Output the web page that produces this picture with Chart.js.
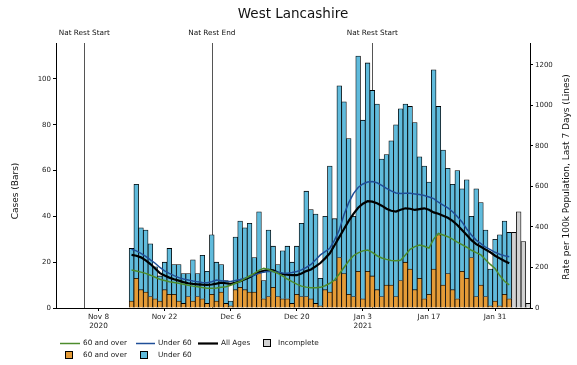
<!DOCTYPE html>
<html>
<head>
<meta charset="utf-8">
<script src="https://cdn.jsdelivr.net/npm/chart.js@4"></script>
<style>
html,body{margin:0;padding:0;background:#fff;}
</style>
</head>
<body>
<canvas id="chart" width="577" height="365"></canvas>
<script>
// dates of the complete days (month/day), Nov 2020 to Feb 2021
const dates = [
  "11/15","11/16","11/17","11/18","11/19","11/20","11/21","11/22","11/23","11/24","11/25","11/26","11/27","11/28","11/29","11/30",
  "12/1","12/2","12/3","12/4","12/5","12/6","12/7","12/8","12/9","12/10","12/11","12/12","12/13","12/14","12/15","12/16",
  "12/17","12/18","12/19","12/20","12/21","12/22","12/23","12/24","12/25","12/26","12/27","12/28","12/29","12/30","12/31",
  "1/1","1/2","1/3","1/4","1/5","1/6","1/7","1/8","1/9","1/10","1/11","1/12","1/13","1/14","1/15","1/16",
  "1/17","1/18","1/19","1/20","1/21","1/22","1/23","1/24","1/25","1/26","1/27","1/28","1/29","1/30","1/31",
  "2/1","2/2","2/3"
];
const over60 = [3,13,8,7,5,4,3,8,6,6,3,2,5,3,5,4, 2,6,3,7,2,1,8,9,8,7,7,16,4,5,9,5, 4,4,2,6,5,5,4,2,1,8,7,12,22,15,6,
  5,16,4,16,14,8,5,10,10,5,12,20,17,8,13,4, 6,17,32,10,15,8,4,16,13,22,5,10,5,1,3, 1,6,4];
const under60 = [23,41,27,27,23,14,11,12,20,13,16,13,10,18,10,19, 14,26,17,12,10,2,23,29,27,30,15,26,8,29,18,14, 21,23,18,21,32,46,39,39,12,32,55,27,75,75,68,
  35,94,78,91,81,81,60,57,63,75,75,69,71,73,53,58, 49,87,56,59,46,46,56,36,43,18,47,36,29,16,27, 31,32,29];
const incompleteDates = ["2/4","2/5","2/6","2/7"];
const incomplete = [33,42,29,2];

// rate per 100k, last 7 days
const rateOver60 = [188,183,177,171,162,152,142,136,130,126,122,117,112,108,105,101, 98,97,99,102,105,112,122,131,145,158,171,186,196,190,180,171,
  158,143,130,118,108,103,100,100,102,110,122,138,168,200,232, 258,272,282,286,275,258,247,240,235,233,236,262,290,303,311,305,
  296,340,368,360,352,340,325,313,300,285,273,262,238,215,195, 160,132,114];
const rateUnder60 = [290,282,270,255,238,221,200,183,171,160,150,143,138,133,129,126, 125,130,138,135,132,131,136,141,147,155,163,171,177,181,180,176,
  173,171,175,180,188,200,215,238,262,278,295,335,385,460,520, 565,595,612,622,624,618,605,590,578,568,565,566,566,563,560,555,
  548,540,522,508,494,475,452,425,390,360,335,318,300,288,275, 265,258,253];
const rateAll = [262,258,250,235,217,195,172,160,150,142,135,128,122,119,117,115, 114,116,120,125,122,119,124,132,142,152,165,175,184,188,186,175,
  168,164,162,162,170,182,190,205,222,245,270,310,350,390,430, 465,495,515,527,525,517,505,490,480,476,485,492,490,484,488,492,
  485,472,465,455,445,430,410,385,360,335,315,302,288,275,258, 245,232,221];

const restDates = ["11/5","12/2","1/5"];
const restLabels = ["Nat Rest Start","Nat Rest End","Nat Rest Start"];
const tickDates = ["11/8","11/22","12/6","12/20","1/3","1/17","1/31"];
const tickLabels = [["Nov 8","2020"],"Nov 22","Dec 6","Dec 20",["Jan 3","2021"],"Jan 17","Jan 31"];

// days counted from 8 Nov 2020
function dayNum(md) {
  const [m, d] = md.split("/").map(Number);
  const y = m >= 11 ? 2020 : 2021;
  return (Date.UTC(y, m - 1, d) - Date.UTC(2020, 10, 8)) / 86400000;
}
const pts = (ds, vs) => ds.map((d, i) => ({x: dayNum(d), y: vs[i]}));

const ORANGE = "#e49b37", BLUE = "#60bbdc", GREY = "#d2d2d2";
const GREEN_LINE = "#4d8c2c", BLUE_LINE = "#1f4f98";
const FONT = '"DejaVu Sans", sans-serif';

const extras = {
  id: "extras",
  beforeDatasetsDraw(chart) {
    const {ctx, chartArea: a, scales: {x}} = chart;
    ctx.save();
    ctx.strokeStyle = "#555";
    ctx.lineWidth = 1;
    restDates.forEach(d => {
      const px = Math.round(x.getPixelForValue(dayNum(d))) + 0.5;
      ctx.beginPath(); ctx.moveTo(px, a.top); ctx.lineTo(px, a.bottom); ctx.stroke();
    });
    ctx.restore();
  },
  afterDraw(chart) {
    const {ctx, chartArea: a, scales: {x}} = chart;
    ctx.save();
    ctx.fillStyle = "#111";
    ctx.textBaseline = "middle";
    ctx.textAlign = "center";
    ctx.font = "13.5px " + FONT;
    ctx.fillText("West Lancashire", (a.left + a.right) / 2, 14);
    ctx.font = "7.3px " + FONT;
    restDates.forEach((d, i) => ctx.fillText(restLabels[i], x.getPixelForValue(dayNum(d)), 33));

    ctx.font = "9px " + FONT;
    ctx.save(); ctx.translate(16, 191); ctx.rotate(-Math.PI / 2);
    ctx.fillText("Cases (Bars)", 0, 0); ctx.restore();
    ctx.save(); ctx.translate(567, 177); ctx.rotate(-Math.PI / 2);
    ctx.fillText("Rate per 100k Population, Last 7 Days (Lines)", 0, 0); ctx.restore();

    // legend, two rows like the original
    ctx.textAlign = "left";
    ctx.font = "7.3px " + FONT;
    const line = (x0, x1, y, c, w) => {
      ctx.strokeStyle = c; ctx.lineWidth = w;
      ctx.beginPath(); ctx.moveTo(x0, y); ctx.lineTo(x1, y); ctx.stroke();
    };
    const box = (x0, y, c) => {
      ctx.fillStyle = c; ctx.fillRect(x0, y - 4, 8, 8);
      ctx.strokeStyle = "#000"; ctx.lineWidth = 1; ctx.strokeRect(x0 + 0.5, y - 3.5, 7, 7);
    };
    line(60, 80, 343.5, GREEN_LINE, 1.5);
    line(136, 155, 343.5, BLUE_LINE, 1.5);
    line(198, 218, 343.5, "#000", 2.2);
    box(263, 343, GREY);
    box(65, 355, ORANGE);
    box(140, 355, BLUE);
    ctx.fillStyle = "#222";
    ctx.fillText("60 and over", 83, 343);
    ctx.fillText("Under 60", 158, 343);
    ctx.fillText("All Ages", 221, 343);
    ctx.fillText("Incomplete", 278, 343);
    ctx.fillText("60 and over", 83, 355);
    ctx.fillText("Under 60", 158, 355);
    ctx.restore();
  }
};

const barStyle = {borderColor: "#000", borderWidth: 0.8, yAxisID: "y", stack: "cases", order: 2,
  barPercentage: 1, categoryPercentage: 1};
const lineStyle = {type: "line", yAxisID: "y1", pointRadius: 0, tension: 0, fill: false, order: 0};

new Chart(document.getElementById("chart"), {
  type: "bar",
  data: {
    datasets: [
      {...lineStyle, label: "60 and over rate", data: pts(dates, rateOver60), borderColor: GREEN_LINE, borderWidth: 1.5},
      {...lineStyle, label: "Under 60 rate", data: pts(dates, rateUnder60), borderColor: BLUE_LINE, borderWidth: 1.5},
      {...lineStyle, label: "All Ages", data: pts(dates, rateAll), borderColor: "#000", borderWidth: 2.2},
      {...barStyle, label: "60 and over", data: pts(dates, over60), backgroundColor: ORANGE},
      {...barStyle, label: "Under 60", data: pts(dates, under60), backgroundColor: BLUE},
      {...barStyle, label: "Incomplete", data: pts(incompleteDates, incomplete), backgroundColor: GREY}
    ]
  },
  options: {
    responsive: false,
    animation: false,
    layout: {padding: {top: 43, left: 0, right: 0, bottom: 0}},
    plugins: {legend: {display: false}, tooltip: {enabled: false}},
    scales: {
      x: {
        type: "linear", min: -9, max: 91.4, stacked: true, offset: false,
        grid: {drawOnChartArea: false, offset: false, tickLength: 3, color: "#000"},
        border: {color: "#000", width: 1},
        ticks: {
          font: {family: FONT, size: 7.3}, color: "#222", padding: 2, maxRotation: 0, autoSkip: false,
          includeBounds: false,
          callback: v => tickLabels[tickDates.findIndex(d => dayNum(d) === v)]
        },
        afterBuildTicks: s => { s.ticks = tickDates.map(d => ({value: dayNum(d)})); },
        afterFit: s => { s.height = 57; }
      },
      y: {
        position: "left", min: 0, max: 115.7, stacked: true,
        grid: {drawOnChartArea: false, tickLength: 3, color: "#000"},
        border: {color: "#000", width: 1},
        ticks: {stepSize: 20, includeBounds: false, font: {family: FONT, size: 7}, color: "#222", padding: 2,
          callback: v => String(v)},
        afterFit: s => { s.width = 56; }
      },
      y1: {
        position: "right", min: 0, max: 1308,
        grid: {drawOnChartArea: false, tickLength: 3, color: "#000"},
        border: {color: "#000", width: 1},
        ticks: {stepSize: 200, includeBounds: false, font: {family: FONT, size: 7}, color: "#222", padding: 2,
          callback: v => String(v)},
        afterFit: s => { s.width = 47; }
      }
    }
  },
  plugins: [extras]
});
</script>
</body>
</html>
